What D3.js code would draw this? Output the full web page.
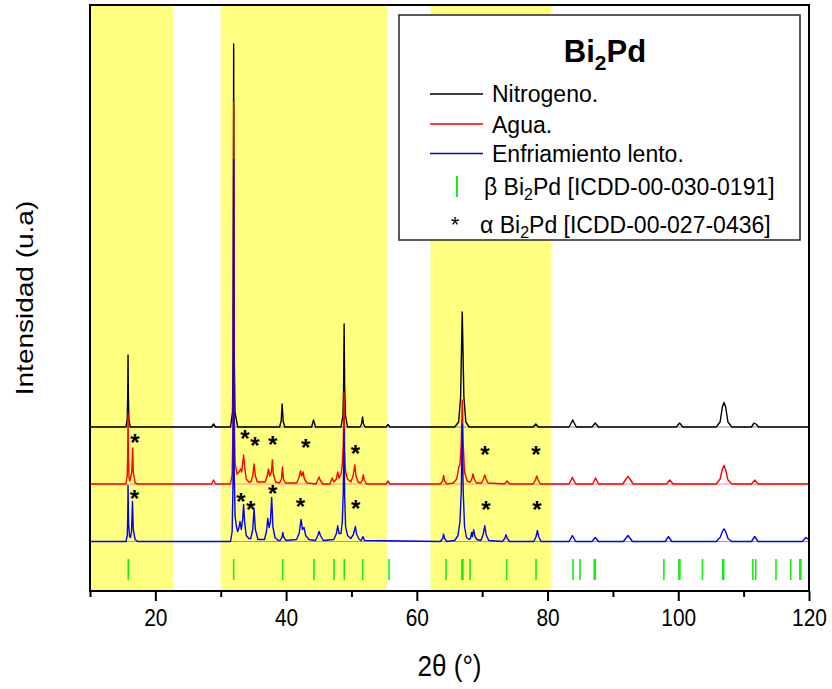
<!DOCTYPE html>
<html>
<head>
<meta charset="utf-8">
<script src="https://cdn.jsdelivr.net/npm/d3@7/dist/d3.min.js"></script>
<style>
  html, body { margin: 0; padding: 0; background: #fff; }
  svg { display: block; }
  text { font-family: "Liberation Sans", Arial, Helvetica, sans-serif; }
</style>
</head>
<body>
<div id="chart"></div>
<script>
// ---------------- DATA ----------------
// 2θ (°) vs. relative intensity (u.a)
const nitrogeno = [
  [10,0],[15.5,0],[15.7,8],[15.77,30],[15.82,72],[15.87,30],[15.95,8],[16.15,0],
  [28.6,0],[28.9,3],[29.2,0],
  [31.5,0],[31.8,15],[31.9,80],[31.98,383],[32.06,80],[32.18,15],[32.6,0],
  [39.0,0],[39.25,6],[39.4,23],[39.55,6],[39.8,0],
  [43.9,0],[44.2,7],[44.5,0],
  [48.4,0],[48.7,12],[48.8,40],[48.88,103],[48.96,40],[49.08,12],[49.4,0],
  [51.3,0],[51.55,3],[51.7,10],[51.85,3],[52.1,0],
  [55.3,0],[55.6,2.5],[55.9,0],
  [65.8,0],[66.4,5],[66.7,30],[66.95,115],[67.2,30],[67.5,5],[68.0,0],
  [77.8,0],[78.2,3],[78.6,0],
  [83.3,0],[83.7,5],[83.85,7],[84.0,5],[84.4,0],
  [86.8,0],[87.3,4],[87.8,0],
  [99.7,0],[100.2,4],[100.7,0],
  [105.8,0],[106.4,5],[106.75,20],[107.0,24.5],[107.25,20],[107.6,5],[108.2,0],
  [111.2,0],[111.6,4],[111.9,3],[112.3,0],
  [120,0]
];
const agua = [
  [10,0],[15.5,0],[15.7,8],[15.77,30],[15.82,71],[15.88,25],[15.98,6],
  [16.1,3],[16.4,12],[16.52,36],[16.62,12],[16.9,1],[17.3,0],
  [28.6,0],[28.9,4],[29.2,0],
  [31.5,0],[31.75,10],[31.88,60],[31.98,382],[32.06,70],[32.2,20],[32.5,10],
  [32.8,12],[33.05,15],[33.2,12],[33.35,20],[33.5,29],[33.65,18],[33.9,5],[34.3,2],
  [34.6,2],[34.9,8],[35.1,20],[35.3,8],[35.6,2],
  [36.8,2],[37.1,8],[37.3,15],[37.5,8],[37.75,12],[37.9,24],[38.05,10],[38.4,2],
  [39.0,1],[39.3,5],[39.45,17],[39.6,5],[39.9,1],
  [41.6,1],[41.95,6],[42.2,13],[42.4,8],[42.6,12],[42.8,5],[43.2,1],
  [44.6,0],[44.9,5],[45.05,7],[45.2,4],[45.6,0],
  [46.7,0],[47.05,6],[47.3,2],[47.7,5],[47.9,12],[48.1,6],[48.4,10],[48.6,20],
  [48.75,40],[48.86,92],[48.96,35],[49.1,12],[49.4,5],
  [49.9,2],[50.25,8],[50.5,19],[50.7,8],[51.0,2],
  [51.4,1],[51.65,4],[51.8,9],[51.95,4],[52.3,0],
  [55.3,0],[55.6,3],[55.9,0],
  [63.6,0],[63.95,3],[64.1,8.6],[64.25,3],[64.6,0],
  [65.6,1],[66.1,5],[66.4,16],[66.6,20],[66.8,40],[66.95,84],[67.1,40],[67.3,12],[67.7,3],[68.1,2],
  [68.2,2],[68.45,6],[68.6,10],[68.8,5],[69.1,1],
  [69.9,1],[70.2,5],[70.4,9],[70.6,5],[70.9,1],
  [73.4,0],[73.8,3],[74.2,0],
  [77.8,0],[78.15,4],[78.35,8],[78.55,4],[78.9,0],
  [83.3,0],[83.8,6.6],[84.3,0],
  [86.9,0],[87.35,6],[87.8,0],
  [91.5,0],[92.0,5],[92.3,7.6],[92.6,5],[93.1,0],
  [98.2,0],[98.7,4],[99.2,0],
  [105.8,0],[106.4,5],[106.75,15],[107.0,18.6],[107.25,14],[107.6,4],[108.2,0],
  [111.2,0],[111.7,4],[112.2,0],
  [120,0]
];
const enfriamiento = [
  [10,0],[15.5,0],[15.7,6],[15.77,22],[15.82,56],[15.9,18],[16.05,5],[16.2,4],
  [16.35,10],[16.5,40],[16.62,12],[16.9,2],[17.3,0],
  [31.5,0],[31.75,10],[31.88,60],[31.98,382],[32.06,70],[32.2,25],[32.4,15],
  [32.6,10],[32.8,14],[32.95,20],[33.15,12],[33.35,22],[33.5,37],[33.65,20],[33.9,6],[34.3,3],
  [34.6,3],[34.9,12],[35.1,33],[35.3,12],[35.7,2],
  [36.7,2],[37.0,10],[37.2,23],[37.4,14],[37.6,20],[37.8,44],[37.98,15],[38.3,4],[38.8,1],
  [39.1,1],[39.35,4],[39.5,9],[39.65,4],[40.0,1],
  [41.6,2],[42.0,8],[42.3,22],[42.5,12],[42.75,14],[43.0,6],[43.5,2],
  [44.5,1],[44.85,6],[45.05,10],[45.25,6],[45.7,1],
  [47.3,2],[47.7,8],[47.9,15.7],[48.1,8],[48.4,8],[48.6,20],[48.75,50],[48.86,112],[48.96,45],[49.1,15],[49.4,6],
  [49.9,3],[50.3,7],[50.6,15],[50.8,7],[51.2,2],
  [51.5,1],[51.75,5],[52.0,1],
  [63.6,0],[63.95,3],[64.1,7.4],[64.25,3],[64.6,0],
  [65.8,1],[66.3,6],[66.6,20],[66.8,50],[66.95,117],[67.1,50],[67.3,15],[67.6,4],[68.0,2],
  [68.2,3],[68.4,9],[68.5,5],[68.7,11.7],[68.9,5],[69.2,2],
  [69.8,1],[70.15,7],[70.4,15.7],[70.6,7],[71.0,1],
  [73.1,0],[73.45,3],[73.65,6.7],[73.85,3],[74.2,0],
  [77.9,0],[78.25,5],[78.45,11],[78.65,5],[79.0,0],
  [83.3,0],[83.8,6],[84.3,0],
  [86.8,0],[87.3,4],[87.8,0],
  [91.6,0],[92.3,6],[93.0,0],
  [98.0,0],[98.5,5],[99.0,0],
  [105.8,0],[106.4,4],[106.75,10],[107.0,12.7],[107.25,10],[107.6,3],[108.2,0],
  [111.2,0],[111.7,5],[112.2,0],
  [119.0,0],[119.5,4],[120,2]
];
// β Bi2Pd reference lines [ICDD-00-030-0191]
const betaRefs = [15.86, 31.98, 39.48, 44.27, 47.33, 48.91, 51.72, 55.75, 64.47,
  66.9, 67.05, 68.14, 73.74, 78.24, 83.9, 84.97, 87.15, 87.3, 97.8, 100.1, 100.25,
  103.7, 106.8, 106.95, 111.4, 111.85, 114.95, 117.2, 118.6, 118.75];
// α Bi2Pd markers (*) [ICDD-00-027-0436] : [2θ, intensity level]
const alphaAgua = [[16.88,153.7],[33.71,157],[35.24,150.3],[37.95,151],[43.0,148.3],[50.59,142.7],[70.43,141],[78.24,141]];
const alphaEnfr = [[16.78,97],[33.1,94.3],[34.59,86],[37.95,102],[42.18,89],[50.65,87.7],[70.59,86],[78.39,86]];
// highlighted 2θ ranges
const bands = [[10,22.75],[30,55.5],[62.1,80.6]];
const majorTicks = [20,40,60,80,100,120];
const minorTicks = [10,30,50,70,90,110];
const seriesNames = ["Nitrogeno.","Agua.","Enfriamiento lento."];

// ---------------- LAYOUT ----------------
const W = 832, H = 689;
const L = 90, R = 809, T = 5, B = 591;
const colors = ["#000000","#ff0000","#0000ff"];
const baseColors = ["#8c8c8c","#ff9090","#9090ff"];
const offsets = [164, 107, 49.5];
const green = "#14ee14";
const font = '"Liberation Sans", Arial, Helvetica, sans-serif';

const svg = d3.select("#chart").append("svg").attr("width", W).attr("height", H);
svg.append("rect").attr("width", W).attr("height", H).attr("fill", "#fff");

const x = d3.scaleLinear().domain([10,120]).range([L,R]);
const y = d3.scaleLinear().domain([0,586]).range([B,T]);

svg.append("clipPath").attr("id","plotclip").append("rect")
  .attr("x",L).attr("y",T).attr("width",R-L).attr("height",B-T);
const plot = svg.append("g").attr("clip-path","url(#plotclip)");

// yellow bands
plot.selectAll("rect.band").data(bands).join("rect").attr("class","band")
  .attr("x", d=>x(d[0])).attr("width", d=>x(d[1])-x(d[0]))
  .attr("y", T).attr("height", B-T).attr("fill", "#ffff80");

// baselines
plot.selectAll("line.base").data(offsets).join("line").attr("class","base")
  .attr("x1", L).attr("x2", R)
  .attr("y1", d=>y(d)).attr("y2", d=>y(d))
  .attr("stroke", (d,i)=>baseColors[i]).attr("stroke-width", 1);

// series
const allSeries = [nitrogeno, agua, enfriamiento];
allSeries.forEach((s,i)=>{
  const line = d3.line().x(d=>x(d[0])).y(d=>y(d[1]+offsets[i]));
  plot.append("path").datum(s).attr("d", line)
    .attr("fill","none").attr("stroke", colors[i]).attr("stroke-width", 1.4)
    .attr("stroke-linejoin","round");
});

// β reference ticks
plot.selectAll("line.beta").data(betaRefs).join("line").attr("class","beta")
  .attr("x1", d=>x(d)).attr("x2", d=>x(d))
  .attr("y1", y(11)).attr("y2", y(32))
  .attr("stroke", green).attr("stroke-width", 1.6);

// α markers
const astFs = 24;
[alphaAgua, alphaEnfr].forEach(arr=>{
  plot.selectAll(null).data(arr).join("text")
    .attr("x", d=>x(d[0])).attr("y", d=>y(d[1]) + 0.56*astFs)
    .attr("text-anchor","middle").attr("font-size", astFs).attr("font-weight","bold")
    .text("*");
});

// frame
svg.append("rect").attr("x",L).attr("y",T).attr("width",R-L).attr("height",B-T)
  .attr("fill","none").attr("stroke","#000").attr("stroke-width",2);

// x axis
const gMaj = svg.append("g").attr("transform",`translate(0,${B})`)
  .call(d3.axisBottom(x).tickValues(majorTicks).tickSize(10).tickFormat(d3.format("d")));
const gMin = svg.append("g").attr("transform",`translate(0,${B})`)
  .call(d3.axisBottom(x).tickValues(minorTicks).tickSize(6).tickFormat(""));
[gMaj,gMin].forEach(g=>{
  g.select(".domain").remove();
  g.selectAll(".tick line").attr("stroke","#000").attr("stroke-width",2);
});
gMaj.selectAll(".tick text")
  .attr("y", 18).attr("dy","0.71em")
  .attr("font-size", 24).attr("font-family", font).attr("fill","#000")
  .attr("transform","scale(0.87,1)");

// axis titles
svg.append("text").attr("transform",`translate(${(L+R)/2},676) scale(0.87,1)`)
  .attr("text-anchor","middle").attr("font-size",30).text("2θ (°)");
svg.append("text").attr("transform",`translate(33,298) scale(0.87,1) rotate(-90)`)
  .attr("text-anchor","middle").attr("font-size",28).text("Intensidad (u.a)");

// legend
const lg = svg.append("g");
lg.append("rect").attr("x",399).attr("y",15).attr("width",401).attr("height",225)
  .attr("fill","#fff").attr("stroke","#333").attr("stroke-width",1.6);
const title = lg.append("text").attr("x",605).attr("y",62).attr("text-anchor","middle")
  .attr("font-size",31).attr("font-weight","bold");
title.append("tspan").text("Bi");
title.append("tspan").attr("font-size",21).attr("dy",8).text("2");
title.append("tspan").attr("dy",-8).text("Pd");

const lyLine = [94,124,153.5];
const lyText = [102,132.5,161.5];
seriesNames.forEach((n,i)=>{
  lg.append("line").attr("x1",430).attr("x2",483).attr("y1",lyLine[i]).attr("y2",lyLine[i])
    .attr("stroke",colors[i]).attr("stroke-width",1.3);
  lg.append("text").attr("x",492).attr("y",lyText[i]).attr("font-size",23).text(n);
});
lg.append("line").attr("x1",457).attr("x2",457).attr("y1",176).attr("y2",197)
  .attr("stroke",green).attr("stroke-width",2);
const bt = lg.append("text").attr("x",484).attr("y",194.5).attr("font-size",23);
bt.append("tspan").text("β Bi");
bt.append("tspan").attr("font-size",16).attr("dy",5).text("2");
bt.append("tspan").attr("dy",-5).text("Pd [ICDD-00-030-0191]");
lg.append("text").attr("x",455).attr("y",220+0.56*22).attr("text-anchor","middle")
  .attr("font-size",22).text("*");
const at = lg.append("text").attr("x",480).attr("y",232.7).attr("font-size",23);
at.append("tspan").text("α Bi");
at.append("tspan").attr("font-size",16).attr("dy",5).text("2");
at.append("tspan").attr("dy",-5).text("Pd [ICDD-00-027-0436]");
</script>
</body>
</html>
